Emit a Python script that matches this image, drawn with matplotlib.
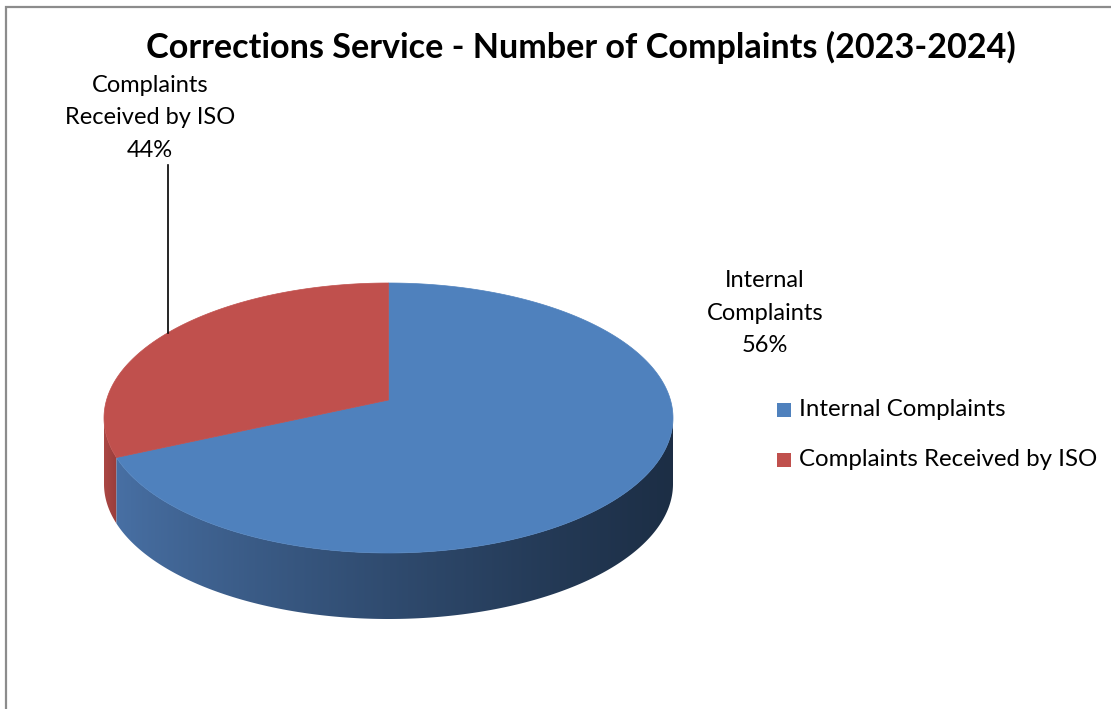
import numpy as np
import matplotlib.pyplot as plt
from matplotlib.patches import Polygon, Rectangle

# data
categories = ['Internal Complaints', 'Complaints Received by ISO']
values = [56, 44]
label_lines = ['Internal\nComplaints\n56%', 'Complaints\nReceived by ISO\n44%']
title = 'Corrections Service - Number of Complaints (2023-2024)'

top_colors = ['#4F81BD', '#C0504D']
side_left = [(0.29, 0.45, 0.66), (0.67, 0.28, 0.27)]
side_right = [(0.11, 0.18, 0.27), (0.60, 0.24, 0.23)]

plt.rcParams['font.family'] = ['Lato', 'DejaVu Sans']

# pie geometry in pixels (y grows downwards)
cx, cy = 388.5, 418.0
rx, ry = 284.5, 135.0
depth = 66.0
hub = 18.0       # projected centre sits a bit above the ellipse centre
persp = 0.59     # strength of the 3d perspective warp


def warp(theta):
    # perspective of the tilted disc: map true angle to angle on the ellipse
    z = np.exp(1j * theta)
    b = 1j * persp
    w = (z + b) / (1 + np.conj(b) * z)
    return np.unwrap(np.angle(w))


def rim(phi, dy=0.0):
    return np.column_stack((cx + rx * np.cos(phi), cy - ry * np.sin(phi) + dy))


fig = plt.figure(figsize=(11.11, 7.09), dpi=100)
ax = fig.add_axes([0, 0, 1, 1])
ax.set_xlim(0, 1111)
ax.set_ylim(709, 0)
ax.axis('off')

# chart border (only left and top are inside the picture)
ax.plot([6, 6, 1115], [715, 7, 7], color='#8c8c8c', lw=1.6, solid_joinstyle='miter')

# slice angles: ISO goes counter-clockwise from 12 o'clock, internal the other way
fracs = np.array(values) / np.sum(values)
start = np.pi / 2
spans = {1: (start, start + 2 * np.pi * fracs[1]),
         0: (start + 2 * np.pi * fracs[1], start + 2 * np.pi)}

arcs = {}
for i, (t0, t1) in spans.items():
    phi = warp(np.linspace(t0, t1, 400))
    if phi[0] < np.pi / 2 - 1e-6:
        phi = phi + 2 * np.pi
    arcs[i] = phi

# side walls (front half only), shaded left to right
for i in [1, 0]:
    phi = arcs[i]
    lo, hi = max(phi.min(), np.pi), min(phi.max(), 2 * np.pi)
    if hi <= lo:
        continue
    p = np.linspace(lo, hi, 300)
    pts = np.vstack((rim(p), rim(p[::-1], depth)))
    poly = Polygon(pts, closed=True, facecolor='none', edgecolor='none')
    ax.add_patch(poly)
    c0, c1 = np.array(side_left[i]), np.array(side_right[i])
    if i == 1:
        s = np.linspace(0, 1, 256)
        ext = (cx - rx, cx + rx * np.cos(hi))
    else:
        s = np.linspace(0, 1, 256) ** 0.8
        ext = (cx - rx, cx + rx)
    grad = c0[None, :] + (c1 - c0)[None, :] * s[:, None]
    im = ax.imshow(grad[None, :, :], extent=(ext[0], ext[1], cy + ry + depth + 5, cy - 5),
                   aspect='auto', zorder=2)
    im.set_clip_path(poly)

# top faces
for i in [0, 1]:
    pts = np.vstack(([cx, cy - hub], rim(arcs[i])))
    ax.add_patch(Polygon(pts, closed=True, facecolor=top_colors[i],
                         edgecolor=top_colors[i], lw=0.5, zorder=3))

# title, fitted to the reference width
t = ax.text(581, 47, title, ha='center', va='center', fontsize=24, fontweight='bold')
fig.canvas.draw()
w = t.get_window_extent().width
t.set_fontsize(24 * 868 / w)

# data labels
ax.text(765, 313, label_lines[0], ha='center', va='center', fontsize=17,
        linespacing=1.66)
ax.text(150, 118, label_lines[1], ha='center', va='center', fontsize=17,
        linespacing=1.66)
ax.plot([168, 168], [165, 333], color='black', lw=1.2, zorder=4)

# legend
for i, name in enumerate(categories):
    ax.add_patch(Rectangle((777, 403 + 50 * i), 14, 14, facecolor=top_colors[i],
                           edgecolor='none'))
    ax.text(799, 410 + 50 * i, name, ha='left', va='center', fontsize=17.3)

fig.savefig('out.png', dpi=100)
